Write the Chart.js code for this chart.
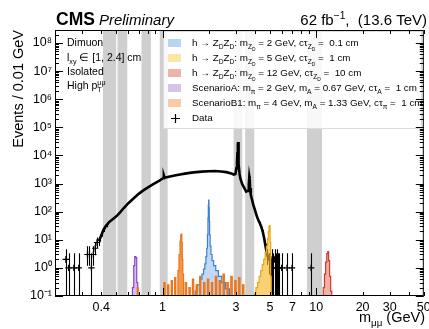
<!DOCTYPE html>
<html>
<head>
<meta charset="utf-8">
<script src="https://cdn.jsdelivr.net/npm/chart.js@4.4.1/dist/chart.umd.min.js"></script>
<style>
html,body{margin:0;padding:0;background:#fff;overflow:hidden;}
canvas{display:block;}
</style>
</head>
<body>
<canvas id="c" width="429" height="329"></canvas>
<script>
const FONT = '"Liberation Sans", Arial, Helvetica, sans-serif';

// ---------- axis ticks ----------
const xTickValues = [0.2,0.3,0.4,0.5,0.6,0.7,0.8,0.9,1,2,3,4,5,6,7,8,9,10,20,30,40,50];
const xLabelValues = [0.4,1,3,5,7,10,20,30,50];
const xTickLabels = ['0.4','1','3','5','7','10','20','30','50'];
const yDecades = [0.1,1,10,100,1e3,1e4,1e5,1e6,1e7,1e8];
const yTickLabels = ['10\u207B\u00B9','10\u2070','10\u00B9','10\u00B2','10\u00B3','10\u2074','10\u2075','10\u2076','10\u2077','10\u2078'];

// ---------- vetoed mass windows (GeV) ----------
const vetoLo = [0.41, 0.51, 0.73, 0.96, 2.90, 3.45, 8.7];
const vetoHi = [0.50, 0.59, 0.84, 1.08, 3.30, 3.95, 10.9];

// ---------- data (dense part) ----------
const denseMass  = [0.385,0.395,0.405,0.415,0.425,0.435,0.445,0.455,0.47,0.49,0.51,0.53,0.56,0.60,0.65,0.70,0.75,0.80,0.85,0.90,0.95,0.99,1.01,1.02,1.03,1.05,1.1,1.2,1.3,1.4,1.5,1.6,1.8,2.0,2.2,2.4,2.6,2.8,2.9,2.98,3.02,3.05,3.07,3.09,3.10,3.11,3.12,3.14,3.17,3.21,3.3,3.4,3.5,3.6,3.64,3.67,3.69,3.71,3.75,3.8,3.9,4.0,4.1,4.2,4.3,4.4,4.5,4.6,4.7,4.8,4.9,5.0,5.08];
const denseCount = [9,12,17,24,29,34,40,45,52,62,75,95,135,200,300,430,570,720,880,1050,1250,1450,1550,2000,1700,1650,1750,1950,2100,2250,2400,2500,2650,2750,2800,2700,2550,2300,2100,2200,3500,6000,12000,25000,30000,22000,12000,5000,2200,1500,950,700,520,550,900,1800,1500,700,400,300,170,110,70,50,38,28,18,10,5,3,2,2,1];
// ---------- data (low-count bins) ----------
const sparseMass  = [0.235,0.245,0.265,0.285,0.325,0.335,0.345,0.355,0.365,0.375,5.15,5.25,5.35,5.45,5.55,5.65,5.75,5.95,6.45,6.95,9.25];
const sparseCount = [2,1,1,1,3,3,1,3,5,8,2,1,2,1,2,1,1,1,1,1,1];
const sparseLo    = [0.05,0.05,0.05,0.05,1.2,1.2,0.05,1.2,2.8,5.0,0.05,0.05,0.05,0.05,0.05,0.05,0.05,0.05,0.05,0.05,0.05];
const sparseHi    = [4.6,3.3,3.3,3.3,5.9,5.9,3.3,5.9,8.4,12,4.6,3.3,4.6,3.3,4.6,3.3,3.3,3.3,3.3,3.3,3.3];

// ---------- signals ----------
const zd2Mass = [1.60,1.66,1.72,1.78,1.83,1.87,1.90,1.93,1.95,1.97,1.98,1.99,2.00,2.01,2.02,2.03,2.05,2.08,2.12,2.18,2.26,2.36,2.5,2.65,2.8];
const zd2Val  = [0.01,0.15,0.25,0.4,0.6,0.9,1.4,2.5,5,15,60,170,260,140,45,15,6,3,1.8,1.2,0.8,0.5,0.3,0.18,0.01];
const zd5Mass = [3.9,4.0,4.1,4.2,4.3,4.4,4.5,4.6,4.7,4.78,4.85,4.9,4.95,4.99,5.03,5.07,5.12];
const zd5Val  = [0.01,0.12,0.2,0.3,0.5,0.8,1.3,2,3.5,6,11,20,30,32,8,0.5,0.01];
const zd12Mass = [11.0,11.2,11.4,11.6,11.8,11.95,12.1,12.3,12.5,12.7];
const zd12Val  = [0.01,0.2,0.6,1.6,3.2,3.8,1.8,0.5,0.15,0.01];
const scAMass = [0.63,0.645,0.655,0.665,0.675,0.685,0.695];
const scAVal  = [0.01,0.2,1.2,2.5,2.3,0.3,0.01];
const scB1Mass = [0.68,0.69,0.70,
  1.01,1.03,1.05, 1.07,1.09,1.11, 1.13,1.15,1.17, 1.19,1.21,1.23,
  1.25,1.27,1.29,1.31,1.32,1.33,1.34,1.35,1.36,1.38,
  1.39,1.42,1.45, 1.47,1.50,1.53, 1.55,1.58,1.61, 1.64,1.67,1.70, 1.73,1.76,1.79, 1.83,1.87,1.91,
  1.94,1.98,2.02, 2.06,2.10,2.14, 2.18,2.23,2.28, 2.31,2.36,2.41, 2.45,2.50,2.55, 2.60,2.65,2.70,
  2.75,2.81,2.87, 2.92,2.98,3.04, 3.10,3.16,3.22, 3.28,3.35,3.42];
const scB1Val = [0.01,0.2,0.01,
  0.01,0.3,0.01, 0.01,0.25,0.01, 0.01,0.35,0.01, 0.01,0.45,0.01,
  0.01,0.8,3,9,15,16,8,2,0.6,0.01,
  0.01,0.3,0.01, 0.01,0.2,0.01, 0.01,0.4,0.01, 0.01,0.25,0.01, 0.01,0.5,0.01, 0.01,0.3,0.01,
  0.01,0.4,0.01, 0.01,0.3,0.01, 0.01,0.5,0.01, 0.01,0.35,0.01, 0.01,0.6,0.01, 0.01,0.3,0.01,
  0.01,0.5,0.01, 0.01,0.35,0.01, 0.01,0.45,0.01, 0.01,0.25,0.01];

// ---------- legend text ----------
const legendLabels = [
  [['h \u2192 Z',0],['D',1],['Z',0],['D',1],[': m',0],['Z',1],['D',2],[' = 2 GeV, c\u03C4',0],['Z',1],['D',2],[' =  0.1 cm',0]],
  [['h \u2192 Z',0],['D',1],['Z',0],['D',1],[': m',0],['Z',1],['D',2],[' = 5 GeV, c\u03C4',0],['Z',1],['D',2],[' =  1 cm',0]],
  [['h \u2192 Z',0],['D',1],['Z',0],['D',1],[': m',0],['Z',1],['D',2],[' = 12 GeV, c\u03C4',0],['Z',1],['D',2],[' =  10 cm',0]],
  [['ScenarioA: m',0],['\u03C0',1],[' = 2 GeV, m',0],['A',1],[' = 0.67 GeV, c\u03C4',0],['A',1],[' =  1 cm',0]],
  [['ScenarioB1: m',0],['\u03C0',1],[' = 4 GeV, m',0],['A',1],[' = 1.33 GeV, c\u03C4',0],['\u03C0',1],[' =  1 cm',0]],
  [['Data',0]]
];
const legendSwatch = ['#b7d4f0','#fde6a4','#eeb4a9','#d5c3ea','#f8caa6', null];

const toXY = (ms, vs) => ms.map((m, i) => ({x: m, y: vs[i]}));

// ---------- rich text helper ----------
const LEVEL = {'0':[1,0], '1':[0.68,0.3], '2':[0.5,0.5], '-1':[0.68,-0.42]};
function richWidth(ctx, segs, size, style) {
  let w = 0;
  for (const [t, l, stay] of segs) {
    const s = LEVEL[l][0];
    ctx.font = `${style} ${size*s}px ${FONT}`;
    if (!stay) w += ctx.measureText(t).width;
  }
  return w;
}
function drawRich(ctx, segs, x, y, size, style = '', align = 'left') {
  const w = richWidth(ctx, segs, size, style);
  if (align === 'right') x -= w;
  ctx.textAlign = 'left';
  ctx.textBaseline = 'alphabetic';
  ctx.fillStyle = '#000';
  for (const [t, l, stay] of segs) {
    const [s, o] = LEVEL[l];
    ctx.font = `${style} ${size*s}px ${FONT}`;
    ctx.fillText(t, x, y + o*size);
    if (!stay) x += ctx.measureText(t).width;
  }
  return w;
}

// ---------- plugins ----------
const bandsPlugin = {
  id: 'bands',
  beforeDatasetsDraw(chart) {
    const {ctx, chartArea: a, scales: {x}} = chart;
    ctx.save();
    ctx.beginPath(); ctx.rect(a.left, a.top, a.right - a.left, a.bottom - a.top); ctx.clip();
    ctx.fillStyle = '#cfcfcf';
    vetoLo.forEach((lo, i) => {
      const x0 = x.getPixelForValue(lo), x1 = x.getPixelForValue(vetoHi[i]);
      ctx.fillRect(x0, a.top, x1 - x0, a.bottom - a.top);
    });
    ctx.restore();
  }
};

const errPlugin = {
  id: 'errbars',
  afterDatasetDraw(chart, args) {
    const ds = chart.data.datasets[args.index];
    if (!ds.errLo) return;
    const {ctx, chartArea: a, scales: {x, y}} = chart;
    ctx.save();
    ctx.beginPath(); ctx.rect(a.left, a.top, a.right - a.left, a.bottom - a.top); ctx.clip();
    ctx.strokeStyle = '#000'; ctx.lineWidth = 1.1;
    ds.data.forEach((p, i) => {
      if (ds.errHi[i] <= p.y * 1.05) return;
      const xp = Math.round(x.getPixelForValue(p.x)) + 0.5;
      const y0 = y.getPixelForValue(Math.max(ds.errLo[i], 0.01));
      const y1 = y.getPixelForValue(ds.errHi[i]);
      ctx.beginPath(); ctx.moveTo(xp, y0); ctx.lineTo(xp, y1); ctx.stroke();
    });
    ctx.restore();
  }
};

const decorPlugin = {
  id: 'decor',
  afterDraw(chart) {
    const {ctx, chartArea: a, scales: {x, y}} = chart;
    ctx.save();
    // legend box
    const lx = 163, ly = 31, lw = 258, lh = 97;
    ctx.fillStyle = 'rgba(255,255,255,0.86)';
    ctx.fillRect(lx, ly, lw, lh);
    ctx.strokeStyle = '#dcdcdc'; ctx.lineWidth = 1;
    ctx.strokeRect(lx + 0.5, ly + 0.5, lw, lh);
    legendLabels.forEach((segs, i) => {
      const cy = 43 + i * 15;
      if (legendSwatch[i]) {
        ctx.fillStyle = legendSwatch[i];
        ctx.fillRect(168, cy - 4, 13, 8);
      } else {
        ctx.strokeStyle = '#000'; ctx.lineWidth = 1.2;
        ctx.beginPath();
        ctx.moveTo(171, cy + 0.5); ctx.lineTo(180, cy + 0.5);
        ctx.moveTo(175.5, cy - 4); ctx.lineTo(175.5, cy + 5);
        ctx.stroke();
      }
      drawRich(ctx, segs, 192, cy + 3.4, 9.8);
    });

    // header
    const wc = drawRich(ctx, [['CMS',0]], 56, 25, 17.5, 'bold');
    drawRich(ctx, [['Preliminary',0]], 56 + wc + 4, 25, 15, 'italic');
    drawRich(ctx, [['62 fb',0],['\u22121',-1],[',  (13.6 TeV)',0]], 427, 25, 15, '', 'right');

    // annotation
    drawRich(ctx, [['Dimuon',0]], 67, 46, 10.5);
    drawRich(ctx, [['l',0],['xy',1],[' \u2208 [1, 2.4] cm',0]], 67, 61, 10.5);
    drawRich(ctx, [['Isolated',0]], 67, 75, 10.5);
    drawRich(ctx, [['High p',0],['T',1,true],['\u03BC\u03BC',-1]], 67, 89, 10.5);

    // x title
    drawRich(ctx, [['m',0],['\u03BC\u03BC',1],[' (GeV)',0]], 425, 322, 14.5, '', 'right');

    // frame
    ctx.strokeStyle = '#000'; ctx.lineWidth = 1;
    ctx.strokeRect(a.left + 0.5, a.top + 0.5, a.right - a.left - 1, a.bottom - a.top - 1);
    ctx.beginPath();
    yDecades.forEach(d => {
      for (let k = 1; k <= 9; k++) {
        const v = d * k;
        if (v < y.min || v > y.max) continue;
        const py = Math.round(y.getPixelForValue(v)) + 0.5;
        const len = k === 1 ? 8 : 4;
        ctx.moveTo(a.left, py); ctx.lineTo(a.left + len, py);
        ctx.moveTo(a.right, py); ctx.lineTo(a.right - len, py);
      }
    });
    xTickValues.forEach(v => {
      const pxx = Math.round(x.getPixelForValue(v)) + 0.5;
      const len = (v === 1 || v === 10) ? 8 : 4;
      ctx.moveTo(pxx, a.bottom); ctx.lineTo(pxx, a.bottom - len);
      ctx.moveTo(pxx, a.top); ctx.lineTo(pxx, a.top + len);
    });
    ctx.stroke();
    ctx.restore();
  }
};

const histDS = (label, ms, vs, fillC, lineC, order) => ({
  type: 'line', label, data: toXY(ms, vs), stepped: 'middle',
  fill: 'start', backgroundColor: fillC, borderColor: lineC, borderWidth: 1.2,
  pointRadius: 0, order
});

const denseLo = denseCount.map(n => n < 40 ? n - Math.sqrt(n) : n);
const denseHi = denseCount.map(n => n < 40 ? n + Math.sqrt(n) : n);

new Chart(document.getElementById('c'), {
  type: 'line',
  data: {
    datasets: [
      { type: 'line', label: 'Data', data: toXY(denseMass, denseCount), borderColor: '#000', borderWidth: 2.6,
        pointRadius: 0, fill: false, order: 10, errLo: denseLo, errHi: denseHi },
      { type: 'line', label: 'Data (low count)', data: toXY(sparseMass, sparseCount), showLine: false,
        pointStyle: 'cross', pointRadius: 3.2, pointBorderWidth: 1.2, borderColor: '#000', backgroundColor: '#000',
        order: 9, errLo: sparseLo, errHi: sparseHi },
      histDS('ScenarioA', scAMass, scAVal, 'rgba(170,110,215,0.45)', '#8a45c8', 4),
      histDS('h->ZDZD 2 GeV', zd2Mass, zd2Val, 'rgba(120,170,230,0.45)', '#3b7fd6', 3),
      histDS('h->ZDZD 5 GeV', zd5Mass, zd5Val, 'rgba(242,184,40,0.65)', '#eaa818', 2),
      histDS('h->ZDZD 12 GeV', zd12Mass, zd12Val, 'rgba(228,100,80,0.5)', '#d0392b', 5),
      histDS('ScenarioB1', scB1Mass, scB1Val, 'rgba(240,125,30,0.8)', '#ec7418', 1)
    ]
  },
  options: {
    responsive: false,
    animation: false,
    events: [],
    layout: { padding: { left: 0, top: 30, right: 5, bottom: 0 } },
    plugins: { legend: { display: false }, tooltip: { enabled: false } },
    scales: {
      x: {
        type: 'logarithmic', min: 0.2, max: 50, position: 'bottom',
        grid: { display: false, drawTicks: false }, border: { display: false },
        afterBuildTicks: s => { s.ticks = xTickValues.map(v => ({ value: v })); },
        ticks: {
          autoSkip: false, maxRotation: 0, minRotation: 0, padding: 4, color: '#000',
          font: { family: FONT, size: 12.5 },
          callback: v => { const i = xLabelValues.indexOf(v); return i >= 0 ? xTickLabels[i] : ''; }
        },
        afterFit: s => { s.height = 33; s.paddingLeft = 0; s.paddingRight = 0; }
      },
      y: {
        type: 'logarithmic', min: 0.1, max: 2.9e8, position: 'left',
        grid: { display: false, drawTicks: false }, border: { display: false },
        afterBuildTicks: s => { s.ticks = yDecades.map(v => ({ value: v })); },
        ticks: {
          autoSkip: false, padding: 3, color: '#000',
          font: { family: FONT, size: 12.5 },
          callback: v => { const i = yDecades.indexOf(v); return i >= 0 ? yTickLabels[i] : ''; }
        },
        title: { display: true, text: 'Events / 0.01 GeV', align: 'end', color: '#000',
                 font: { family: FONT, size: 14.5 }, padding: { top: 10, bottom: 0 } },
        afterFit: s => { s.width = 55; s.paddingTop = 0; s.paddingBottom = 0; }
      }
    }
  },
  plugins: [bandsPlugin, errPlugin, decorPlugin]
});
</script>
</body>
</html>
